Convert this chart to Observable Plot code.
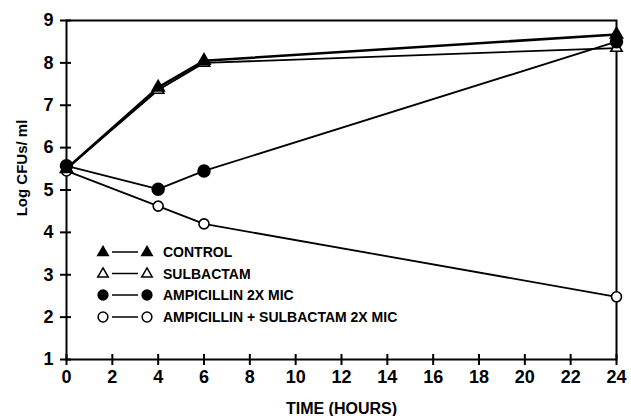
<!DOCTYPE html>
<html><head><meta charset="utf-8">
<script src="https://cdn.jsdelivr.net/npm/d3@7"></script>
<script src="https://cdn.jsdelivr.net/npm/@observablehq/plot@0.6"></script>
<style>body{margin:0;background:#fff;} #chart svg{font-family:"Liberation Sans",Arial,sans-serif;font-weight:bold;}</style>
</head><body><div id="chart"></div>
<script>
const hours = [0, 4, 6, 24];
const control = [5.5, 7.42, 8.05, 8.67];
const sulbactam = [5.5, 7.36, 8.0, 8.35];
const ampicillin = [5.57, 5.02, 5.45, 8.5];
const ampSulb = [5.45, 4.62, 4.2, 2.48];
const seriesNames = ["CONTROL", "SULBACTAM", "AMPICILLIN 2X MIC", "AMPICILLIN + SULBACTAM 2X MIC"];
const seriesSymbols = ["triangle", "triangle", "circle", "circle"];
const seriesFilled = [true, false, true, false];
const xTicks = [0, 2, 4, 6, 8, 10, 12, 14, 16, 18, 20, 22, 24];
const yTicks = [1, 2, 3, 4, 5, 6, 7, 8, 9];
const xLabel = "TIME (HOURS)";
const yLabel = "Log CFUs/ ml";

const allValues = [control, sulbactam, ampicillin, ampSulb];
const rows = [];
allValues.forEach((vals, i) => hours.forEach((t, j) => rows.push({
  series: seriesNames[i], t, v: vals[j], symbol: seriesSymbols[i], filled: seriesFilled[i], idx: i
})));
const ser = i => rows.filter(d => d.idx === i);

const chart = Plot.plot({
  width: 631, height: 416,
  marginLeft: 66, marginRight: 15, marginTop: 20, marginBottom: 57,
  x: {domain: [0, 24], axis: null},
  y: {domain: [1, 9], axis: null},
  style: {fontFamily: "Liberation Sans, Arial, sans-serif", fontWeight: "bold", fontSize: "18px", color: "black", background: "white"},
  marks: [
    Plot.frame({stroke: "black", strokeWidth: 2}),
    Plot.axisX({ticks: xTicks, tickSize: 11, dy: -5, tickPadding: 5, label: null, strokeWidth: 2, fontSize: 18, fontWeight: "bold", fill: "black", stroke: "black"}),
    Plot.axisY({ticks: yTicks, tickSize: 11, dx: 5, tickPadding: 7, label: null, strokeWidth: 2, fontSize: 18, fontWeight: "bold", fill: "black", stroke: "black"}),
    Plot.text([xLabel], {frameAnchor: "bottom", dy: 54, fontSize: 16, fontWeight: "bold", fill: "black"}),
    Plot.line(ser(3), {x: "t", y: "v", stroke: "black", strokeWidth: 1.8}),
    Plot.line(ser(2), {x: "t", y: "v", stroke: "black", strokeWidth: 1.8}),
    Plot.line(ser(1), {x: "t", y: "v", stroke: "black", strokeWidth: 1.8}),
    Plot.line(ser(0), {x: "t", y: "v", stroke: "black", strokeWidth: 2.6}),
    Plot.dot(ser(3), {x: "t", y: "v", symbol: "circle", r: 5, fill: "white", stroke: "black", strokeWidth: 1.6}),
    Plot.dot(ser(1), {x: "t", y: "v", symbol: "triangle", r: 4.2, fill: "white", stroke: "black", strokeWidth: 1.6}),
    Plot.dot(ser(2), {x: "t", y: "v", symbol: "circle", r: 6, fill: "black", stroke: "black"}),
    Plot.dot(ser(0), {x: "t", y: "v", symbol: "triangle", r: 4.6, fill: "black", stroke: "black"})
  ]
});
document.getElementById("chart").append(chart);

const svg = d3.select(chart);
// y axis title
svg.append("text").attr("transform", "translate(27,168) rotate(-90)")
  .attr("text-anchor", "middle").attr("font-size", 15).attr("font-weight", "bold")
  .attr("fill", "black").text(yLabel);

// legend inside the plot area
const lg = svg.append("g").attr("text-anchor", "start");
const rowY = [252, 273.5, 295, 317];
seriesNames.forEach((name, i) => {
  const y = rowY[i];
  const tri = seriesSymbols[i] === "triangle";
  const sym = d3.symbol(tri ? d3.symbolTriangle : d3.symbolCircle, tri ? 48 : 75)();
  [103, 147].forEach(x => lg.append("path").attr("d", sym)
    .attr("transform", `translate(${x},${y + (tri ? 0.5 : 0)})`)
    .attr("fill", seriesFilled[i] ? "black" : "white")
    .attr("stroke", "black").attr("stroke-width", 1.5));
  lg.append("line").attr("x1", 112).attr("x2", 138).attr("y1", y).attr("y2", y)
    .attr("stroke", "black").attr("stroke-width", 1.5);
  lg.append("text").attr("x", 163).attr("y", y + 5).text(name)
    .attr("text-anchor", "start")
    .attr("font-size", 14).attr("font-weight", "bold").attr("fill", "black");
});
</script></body></html>
